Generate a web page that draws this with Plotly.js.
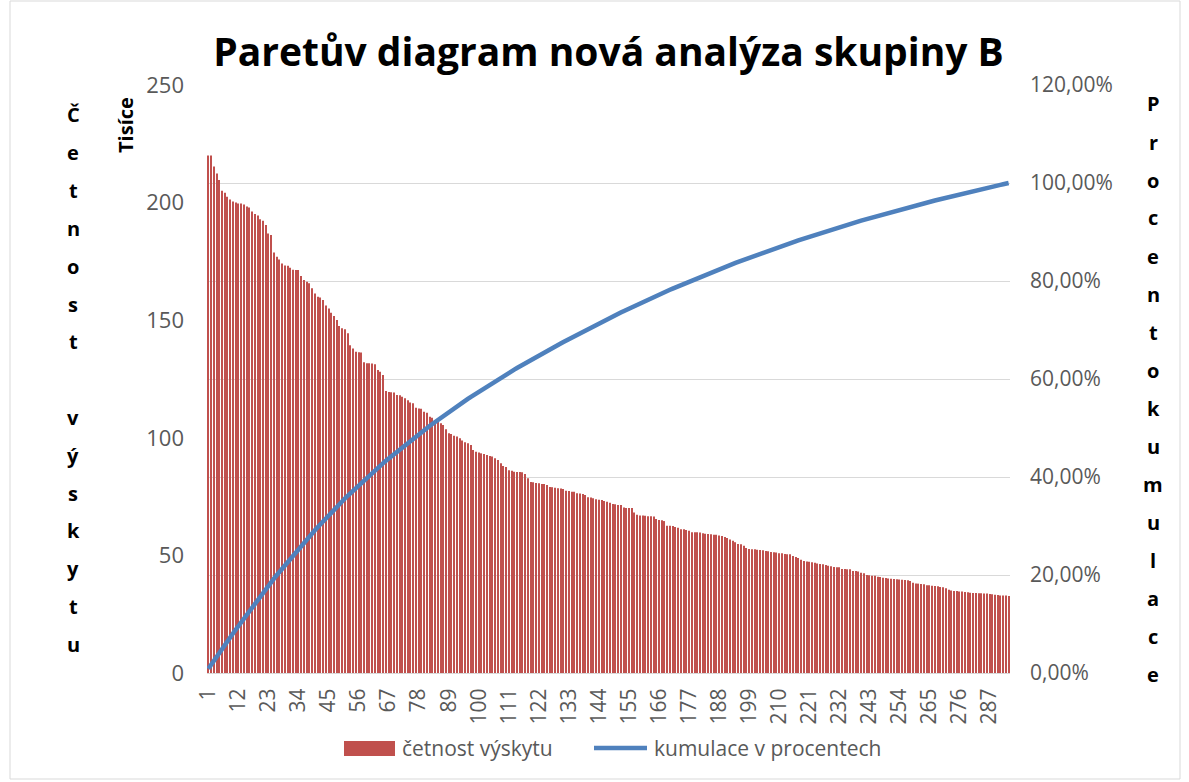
<!DOCTYPE html>
<html>
<head>
<meta charset="utf-8">
<script src="https://cdn.plot.ly/plotly-3.0.1.min.js"></script>
<style>html,body{margin:0;padding:0;background:#fff}#chart{width:1189px;height:782px}</style>
</head>
<body>
<div id="chart"></div>
<script>
// Četnost výskytu (v tisících), bars 1..294
const cetnost = [
220,220,215.3,212.4,209.6,205,204.2,202.5,201.3,200.5,
200,199.6,199.6,199.2,198.3,197.9,196.2,195.2,194.5,192.9,
192.3,190.5,186.9,186.2,178.8,177,175.8,174.1,173.3,173.1,
172.3,171.4,171.3,171.3,168.8,167.1,166.4,165.7,163.6,161.4,
160,159.6,158.6,156.2,155,153.2,151.8,150.1,147.5,146.6,
146.1,144.4,139.3,138,136.6,136.4,136.3,132.1,131.7,131.7,
131.6,131.3,128.8,128.1,126.7,119.9,119.5,119.4,119.3,118.2,
118.1,117.5,116.8,116,115,114.7,112.8,112.5,112.4,111.1,
110.7,109,108.5,107.6,106.8,106.2,105.4,103.6,101.9,101.6,
100.9,100.5,99.8,98.8,98.1,97.7,96.9,94.8,94.1,93.7,
93.4,93.1,92.7,92.3,92,91.3,90.6,89.2,88,87.6,
86.2,86,85.6,85.5,85.5,85.3,84.6,82.8,81.2,81.1,
80.8,80.7,80.4,80.4,79.9,79.1,79,78.8,78.5,78.4,
78.2,77.5,77.4,77.1,77.1,76.4,76.3,76.1,75.7,74.7,
74.6,74.3,73.9,73.7,73.6,73.1,72.8,72.4,71.9,71.8,
71.4,71.4,70.4,70.2,70.1,70.1,68.2,67.3,67,67,
66.9,66.6,66.6,66.5,65.5,65,64.9,64.6,62.6,62.6,
62.5,62.1,61.8,61.1,61.1,60.8,60.5,59.8,59.8,59.8,
59.7,59.4,59.2,59.1,59,58.8,58.8,58.5,58.2,57.8,
57.4,56.8,56.2,55.6,54.8,54.7,54.1,53.1,52.7,52.6,
52.6,52.4,52.3,52.2,51.9,51.8,51.4,51.3,51.2,50.9,
50.9,50.6,50.5,50.5,49.7,49.3,48.9,48.1,47.6,47.4,
47.3,47.1,46.9,46.6,46.3,46.2,45.9,45.6,45.4,45.1,
45,45,44.2,44.2,44.1,44.1,43.4,43.4,43.2,42.6,
42.4,41.7,41.6,41.4,41.3,40.9,40.8,40.5,40.4,40.2,
40.1,40,39.9,39.8,39.7,39.5,39.4,39.1,38.4,38.1,
38,37.8,37.7,37.3,37.3,37.1,37,36.9,36.6,36.5,
36,35.4,35.1,34.9,34.9,34.6,34.6,34.4,34.3,34.1,
34,34,33.9,33.9,33.8,33.8,33.6,33.5,33.3,33.2,
33,33,32.9,32.7
];
const kategorie = cetnost.map((v, i) => i + 1);
const tickHodnoty = [1,12,23,34,45,56,67,78,89,100,111,122,133,144,155,166,177,188,199,210,221,232,243,254,265,276,287];
const nazev = "Paretův diagram nová analýza skupiny B";
const nazevLevy = "Četnost výskytu";
const nazevPravy = "Procentokumulace";
const jednotky = "Tisíce";
const serie1 = "četnost výskytu";
const serie2 = "kumulace v procentech";

// cumulative share derived from the bar values (as in the original Pareto chart)
const celkem = cetnost.reduce((a, b) => a + b, 0);
let run = 0;
const kumulace = cetnost.map(v => { run += v; return run / celkem; });

const W = 1189, H = 782;
const L = 207, R = 1010, T = 85, B = 673;
const px2x = p => (p - L) / (R - L);
const py2y = p => (B - p) / (B - T);

const gray = '#595959';
const fam = 'Open Sans, Liberation Sans, sans-serif';
const barColor = '#c0504d', lineColor = '#4f81bd';

const ann = [];
[...nazevLevy].forEach((ch, i) => {
  if (ch === ' ') return;
  ann.push({text: ch, xref: 'paper', yref: 'paper', x: px2x(73), y: py2y(115 + i * 37.8),
    showarrow: false, xanchor: 'center', yanchor: 'middle', font: {family: fam, size: 20, weight: 700, color: '#000'}});
});
[...nazevPravy].forEach((ch, i) => {
  ann.push({text: ch, xref: 'paper', yref: 'paper', x: px2x(1153), y: py2y(104 + i * 38.0),
    showarrow: false, xanchor: 'center', yanchor: 'middle', font: {family: fam, size: 20, weight: 700, color: '#000'}});
});
ann.push({text: jednotky, xref: 'paper', yref: 'paper', x: px2x(126), y: py2y(125),
  textangle: -90, showarrow: false, xanchor: 'center', yanchor: 'middle', font: {family: fam, size: 20, weight: 700, color: '#000'}});
// legend texts
ann.push({text: serie1, xref: 'paper', yref: 'paper', x: px2x(400), y: py2y(748), showarrow: false,
  xanchor: 'left', yanchor: 'middle', font: {family: fam, size: 21, color: gray}});
ann.push({text: serie2, xref: 'paper', yref: 'paper', x: px2x(652), y: py2y(748), showarrow: false,
  xanchor: 'left', yanchor: 'middle', font: {family: fam, size: 21, color: gray}});

const data = [
  {type: 'bar', x: kategorie, y: cetnost, name: serie1, marker: {color: barColor}, yaxis: 'y'},
  {type: 'scatter', mode: 'lines', x: kategorie, y: kumulace, name: serie2, yaxis: 'y2',
   line: {color: lineColor, width: 4.5}}
];

const layout = {
  width: W, height: H,
  margin: {l: L, r: W - R, t: T, b: H - B, pad: 0},
  paper_bgcolor: '#fff', plot_bgcolor: '#fff',
  separators: ', ',
  bargap: 0.62,
  showlegend: false,
  font: {family: fam, color: gray},
  title: {text: '<b>' + nazev + '</b>', x: 0.5, xref: 'paper', y: 1 - 52 / H, yref: 'container', yanchor: 'middle',
    font: {family: fam, size: 39, color: '#000'}},
  xaxis: {range: [0.5, cetnost.length + 0.5], tickmode: 'array', tickvals: tickHodnoty, tickangle: -90,
    showgrid: false, zeroline: false, showline: true, linecolor: '#d9d9d9', linewidth: 1,
    ticks: '', ticklabelstandoff: 6, tickfont: {family: fam, size: 21, color: gray}},
  yaxis: {range: [0, 250], dtick: 50, showgrid: false, zeroline: false, showline: false, ticks: '',
    ticklabelstandoff: 22, tickfont: {family: fam, size: 22, color: gray}},
  yaxis2: {range: [0, 1.2], dtick: 0.2, overlaying: 'y', side: 'right', tickformat: '.2%',
    showgrid: true, gridcolor: '#d9d9d9', gridwidth: 1, zeroline: false, showline: false, ticks: '',
    ticklabelstandoff: 19, tickfont: {family: fam, size: 21, color: gray}},
  annotations: ann,
  shapes: [
    {type: 'rect', xref: 'paper', yref: 'paper', x0: px2x(10), x1: px2x(1180), y0: py2y(779), y1: py2y(1),
     line: {color: '#d9d9d9', width: 1}, fillcolor: 'rgba(0,0,0,0)', layer: 'below'},
    {type: 'rect', xref: 'paper', yref: 'paper', x0: px2x(344), x1: px2x(395), y0: py2y(756), y1: py2y(741),
     line: {width: 0}, fillcolor: barColor},
    {type: 'line', xref: 'paper', yref: 'paper', x0: px2x(594), x1: px2x(647), y0: py2y(748), y1: py2y(748),
     line: {color: lineColor, width: 4.5}}
  ]
};

Plotly.newPlot('chart', data, layout, {displayModeBar: false, responsive: false});
</script>
</body>
</html>
